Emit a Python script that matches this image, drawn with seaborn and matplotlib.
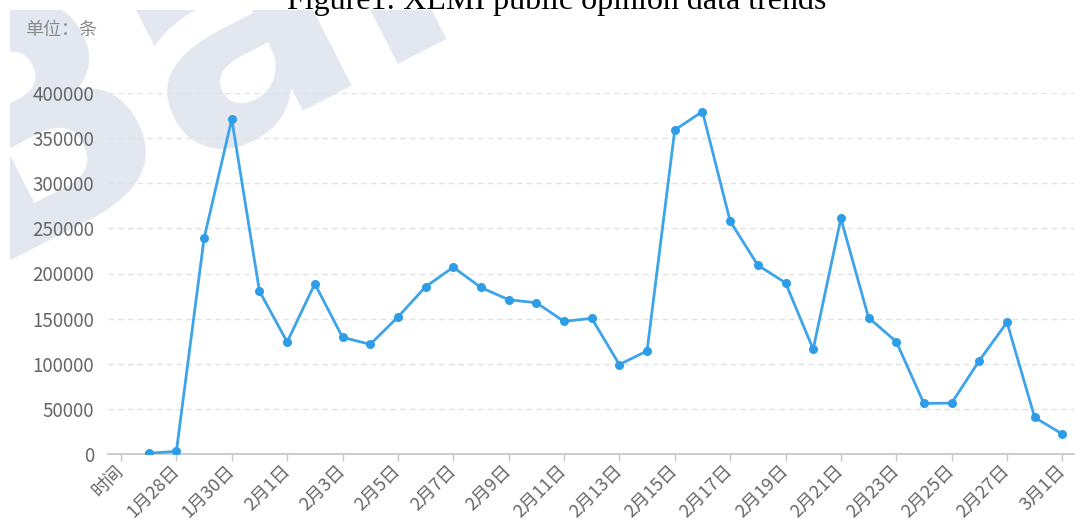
import numpy as np
import pandas as pd
import matplotlib
matplotlib.use("Agg")
import matplotlib.pyplot as plt
from matplotlib.transforms import Bbox
import seaborn as sns

# ---- data ----
dates = ["1月27日", "1月28日", "1月29日", "1月30日", "1月31日",
         "2月1日", "2月2日", "2月3日", "2月4日", "2月5日", "2月6日", "2月7日",
         "2月8日", "2月9日", "2月10日", "2月11日", "2月12日", "2月13日", "2月14日",
         "2月15日", "2月16日", "2月17日", "2月18日", "2月19日", "2月20日", "2月21日",
         "2月22日", "2月23日", "2月24日", "2月25日", "2月26日", "2月27日", "2月28日",
         "3月1日"]
counts = [800, 2900, 239000, 371000, 180500,
          124100, 188600, 129300, 121500, 151700, 185300, 207000,
          184500, 170900, 167600, 147000, 150300, 99100, 114200,
          359000, 379500, 258000, 209200, 189700, 116000, 261000,
          151000, 124500, 56000, 56400, 103500, 145900, 40500,
          22100]
axis_name = "时间"
y_ticks = [0, 50000, 100000, 150000, 200000, 250000, 300000, 350000, 400000]
title_text = "Figure1: XLMI public opinion data trends"
unit_text = "单位：条"
watermark_text = "Bai"

# ---- style ----
sns.set_theme(style="white")
plt.rcParams["font.family"] = ["Noto Sans CJK SC", "DejaVu Sans"]

W, H = 1084, 525
fig = plt.figure(figsize=(W / 100, H / 100), dpi=100)
fig.patch.set_facecolor("white")

# watermark behind everything, clipped to the picture area below/right of a thin white margin
wm = fig.text(-28 / W, 1 - 265 / H, watermark_text, fontsize=225, fontweight="heavy",
              family="DejaVu Sans", color="#e3e7f0", rotation=27,
              rotation_mode="anchor", ha="left", va="baseline", zorder=-5)
wm.set_clip_box(Bbox.from_extents(10, 0, W, H - 10))
wm.set_clip_on(True)

ax = fig.add_axes([108 / W, 1 - 454 / H, (1074 - 108) / W, (454 - 93) / H])
ax.patch.set_alpha(0)

df = pd.DataFrame({"day": np.arange(1, len(dates) + 1), "count": counts})
sns.lineplot(data=df, x="day", y="count", ax=ax, color="#3ea4ea", linewidth=2.0,
             marker="o", markersize=6.5, markeredgewidth=0,
             markerfacecolor="#2e9de8", zorder=5)

ax.set_xlim(-0.47, 34.42)
ax.set_ylim(0, 400000)

tick_pos = list(range(0, len(dates) + 1, 2))
tick_labels = [axis_name] + dates[1::2]
ax.set_xticks(tick_pos)
ax.set_xticklabels(tick_labels, rotation=45, ha="right", va="center",
                   rotation_mode="anchor", fontsize=13, color="#666666")
ax.set_yticks(y_ticks)
ax.set_yticklabels([str(v) for v in y_ticks], fontsize=13.5, color="#666666")

ax.tick_params(axis="x", bottom=True, length=5, width=1, color="#c8c8c8",
               direction="out", pad=5)
ax.tick_params(axis="y", left=False, length=0, pad=10)

for s in ["top", "right", "left"]:
    ax.spines[s].set_visible(False)
ax.spines["bottom"].set_color("#c8c8c8")
ax.spines["bottom"].set_linewidth(1.3)

ax.yaxis.grid(True, linestyle=(0, (4, 3)), color="#e2e2e2", linewidth=1)
ax.xaxis.grid(False)
ax.set_axisbelow(True)
ax.set_xlabel("")
ax.set_ylabel("")

fig.text(557 / W, 1 - 9 / H, title_text, ha="center", va="baseline",
         family="Liberation Serif", fontsize=23, color="black")
fig.text(25 / W, 1 - 30 / H, unit_text, ha="left", va="center",
         fontsize=13, color="#8a8a8a")

fig.savefig("out.png", dpi=100)
